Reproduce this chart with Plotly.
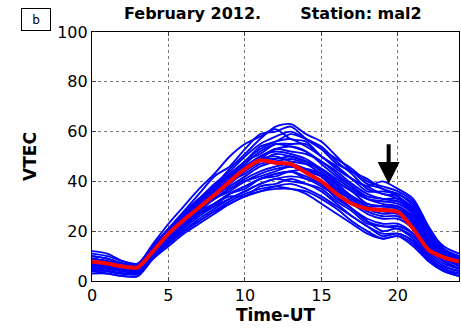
import plotly.graph_objects as go

hours = list(range(25))

blue_curves = [
    [10,9,7,6,12,19,25,31,38,45,51,57,62,63,59,56,50,44,41,37,35,31,20,13,10],
    [11,10,8,7,13,21,28,35,42,46,53,59,60,62,57,53,47,44,39,37,34,29,19,12,10],
    [9,8,7,7,15,23,30,37,43,50,55,58,61,57,56,50,46,41,38,35,34,27,17,11,9],
    [12,11,8,7,14,21,27,33,39,44,50,55,58,60,57,53,49,45,40,38,36,32,21,14,11],
    [8,7,6,6,13,20,26,31,37,43,48,54,56,59,57,54,48,43,37,35,33,28,18,12,9],
    [7,6,5,5,12,19,26,32,38,43,48,53,56,57,54,50,45,41,38,40,37,33,22,13,9],
    [9,8,6,6,14,20,26,32,38,42,48,51,55,55,55,50,46,41,36,36,35,30,19,12,9],
    [6,6,5,5,12,18,25,31,37,42,47,52,55,54,52,48,44,39,35,33,33,29,18,11,7],
    [8,7,6,5,13,20,27,33,38,42,46,50,53,54,52,47,42,38,34,33,32,28,18,12,8],
    [10,9,7,6,13,19,25,30,36,40,46,49,53,52,51,48,43,38,33,32,31,27,17,11,9],
    [7,6,5,5,12,18,24,30,36,41,46,50,52,51,49,45,40,36,33,32,32,27,16,10,7],
    [5,5,4,4,11,17,23,29,34,39,44,48,51,50,48,44,39,34,31,30,30,26,16,10,6],
    [8,7,5,5,13,20,27,33,37,42,45,49,50,48,47,45,40,36,31,30,29,24,15,10,8],
    [9,8,6,6,14,21,27,33,38,42,46,49,49,50,48,45,41,37,33,31,30,25,15,10,8],
    [6,5,4,4,12,18,24,29,34,38,42,46,48,49,47,43,38,33,29,27,27,23,14,9,6],
    [7,6,5,5,13,19,25,31,35,40,43,47,48,46,45,42,36,33,29,29,28,24,15,10,7],
    [10,9,7,6,13,19,24,29,33,37,41,44,46,47,45,42,37,32,28,26,26,22,14,10,9],
    [5,4,3,3,11,17,22,28,33,37,40,43,45,46,44,40,35,31,27,25,25,21,13,8,5],
    [8,7,6,5,12,18,23,28,33,36,40,42,44,46,44,42,37,34,30,30,29,25,16,10,7],
    [6,5,4,4,12,17,22,27,31,35,38,41,43,44,45,43,39,34,30,28,27,22,13,8,5],
    [4,3,2,2,10,16,22,27,31,35,38,41,43,44,42,39,34,29,25,23,23,19,11,6,4],
    [7,6,5,4,12,17,22,27,30,35,37,41,42,44,41,39,33,29,24,22,22,19,12,7,5],
    [3,3,2,2,9,15,20,25,29,33,36,39,41,42,41,38,34,29,24,20,21,17,10,5,3],
    [6,5,4,4,11,16,21,26,30,33,36,39,41,40,39,36,31,26,22,19,19,16,9,5,3],
    [5,4,3,3,11,17,22,28,31,34,34,38,39,41,39,37,32,28,23,22,21,18,11,6,4],
    [4,4,3,3,10,15,20,24,28,31,34,36,38,39,37,34,30,26,22,18,19,16,9,4,2],
    [7,6,4,4,11,16,20,24,28,32,35,37,38,37,36,33,29,24,20,17,18,15,8,4,2],
    [5,4,3,3,9,14,19,23,27,31,34,36,37,37,35,31,27,23,19,17,18,14,8,4,3],
]

mean_curve = [7.8,7,5.8,5.5,12,19,24.5,29.5,34.5,40,45,48.5,47.5,47,43.5,40,35,31,29,28.5,27.8,21,12.5,9.5,7.8]

x_ticks = [0, 5, 10, 15, 20]
y_ticks = [0, 20, 40, 60, 80, 100]

title_left = "February 2012."
title_right = "Station: mal2"
panel_label = "b"
arrow_x = 19.4
arrow_tip = 39
arrow_tail = 55.5

fig = go.Figure()
for c in blue_curves:
    fig.add_trace(go.Scatter(x=hours, y=c, mode="lines",
                             line=dict(color="#0000FF", width=1.9, shape="spline", smoothing=0.8),
                             showlegend=False, hoverinfo="skip"))
fig.add_trace(go.Scatter(x=hours, y=mean_curve, mode="lines",
                         line=dict(color="#FF0000", width=4, shape="spline", smoothing=0.6),
                         showlegend=False))

font_family = "DejaVu Sans, Arial, sans-serif"
fig.update_layout(
    width=461, height=328,
    margin=dict(l=92, r=2, t=32, b=47),
    paper_bgcolor="white", plot_bgcolor="white",
    font=dict(family=font_family, color="black"),
    showlegend=False,
)
fig.update_xaxes(range=[0, 24], tickvals=x_ticks, ticks="inside", ticklen=4,
                 showline=True, linecolor="black", linewidth=1.2, mirror="ticks",
                 showgrid=True, gridcolor="#777777", griddash="dot", gridwidth=1,
                 zeroline=False, tickfont=dict(size=16), automargin=False,
                 title=dict(text="<b>Time-UT</b>", font=dict(size=17), standoff=3))
fig.update_yaxes(range=[0, 100], tickvals=y_ticks, ticks="inside", ticklen=4,
                 showline=True, linecolor="black", linewidth=1.2, mirror="ticks",
                 showgrid=True, gridcolor="#777777", griddash="dot", gridwidth=1,
                 zeroline=False, tickfont=dict(size=16), automargin=False,
                 title=dict(text="<b>VTEC</b>", font=dict(size=17), standoff=16))

fig.add_annotation(x=0.5, y=1.0, xref="paper", yref="paper", xanchor="center", yanchor="bottom",
                   yshift=7, xshift=-3,
                   text="<b>" + title_left + "&nbsp;&nbsp;&nbsp;&nbsp;&nbsp;&nbsp;&nbsp;" + title_right + "</b>",
                   showarrow=False, font=dict(size=16, family=font_family))
fig.add_annotation(x=-0.1526, y=1.05, xref="paper", yref="paper", xanchor="center", yanchor="middle",
                   text=panel_label, showarrow=False, bordercolor="black", borderwidth=1, borderpad=1,
                   width=26, height=19, font=dict(size=12))
fig.add_annotation(x=arrow_x, y=arrow_tip, ax=arrow_x, ay=arrow_tail, xref="x", yref="y",
                   axref="x", ayref="y", text="", showarrow=True, arrowhead=2,
                   arrowsize=1.1, arrowwidth=4, arrowcolor="black")

fig.write_html("out.html", config={"displayModeBar": False},
               post_script="document.body.style.margin='0';")
